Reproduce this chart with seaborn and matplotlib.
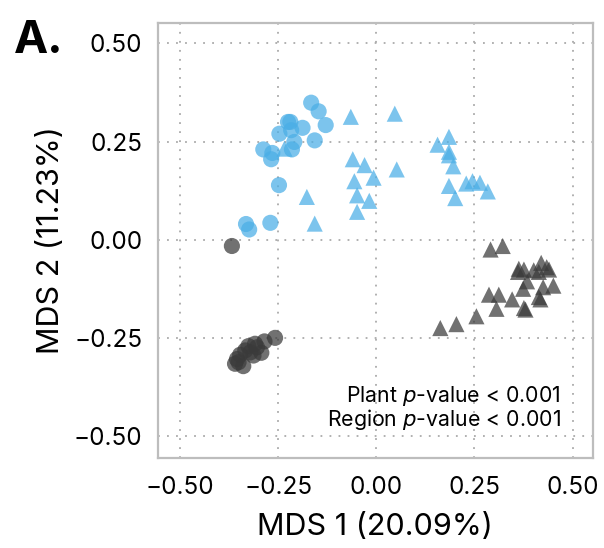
import numpy as np
import pandas as pd
import matplotlib
matplotlib.use("Agg")
import matplotlib.pyplot as plt
import seaborn as sns

# Data: MDS coordinates
blue_circle_x = [-0.166, -0.147, -0.225, -0.219, -0.129, -0.188, -0.217, -0.247, -0.157,
                 -0.209, -0.215, -0.288, -0.265, -0.268, -0.248, -0.332, -0.324, -0.270]
blue_circle_y = [0.349, 0.327, 0.300, 0.300, 0.292, 0.285, 0.279, 0.270, 0.253,
                 0.249, 0.230, 0.230, 0.221, 0.205, 0.139, 0.040, 0.026, 0.043]

blue_tri_x = [-0.234, -0.177, -0.157, -0.065, 0.047, 0.185, 0.156, 0.185, 0.185, -0.060,
              -0.030, 0.196, 0.052, -0.007, -0.056, 0.229, 0.245, 0.264, 0.284, 0.185,
              0.201, -0.049, -0.018, -0.049]
blue_tri_y = [0.232, 0.109, 0.041, 0.313, 0.321, 0.262, 0.242, 0.224, 0.215, 0.205,
              0.190, 0.187, 0.179, 0.158, 0.149, 0.143, 0.149, 0.145, 0.123, 0.137,
              0.106, 0.113, 0.099, 0.071]

dark_circle_x = [-0.368, -0.258, -0.285, -0.309, -0.326, -0.334, -0.347, -0.355, -0.360,
                 -0.339, -0.313, -0.293, -0.321, -0.304, -0.351]
dark_circle_y = [-0.016, -0.250, -0.259, -0.265, -0.271, -0.282, -0.293, -0.304, -0.316,
                 -0.322, -0.295, -0.288, -0.287, -0.274, -0.312]

dark_tri_x = [0.291, 0.322, 0.363, 0.376, 0.401, 0.420, 0.434, 0.440, 0.414, 0.361,
              0.384, 0.374, 0.451, 0.425, 0.414, 0.418, 0.287, 0.312, 0.346, 0.306,
              0.376, 0.380, 0.255, 0.204, 0.163]
dark_tri_y = [-0.025, -0.016, -0.074, -0.076, -0.078, -0.059, -0.070, -0.076, -0.082, -0.082,
              -0.106, -0.125, -0.117, -0.121, -0.146, -0.152, -0.140, -0.140, -0.152, -0.176,
              -0.174, -0.178, -0.195, -0.215, -0.225]

tick_vals = [-0.50, -0.25, 0.00, 0.25, 0.50]
tick_labels = ["\u22120.50", "\u22120.25", "0.00", "0.25", "0.50"]

frames = []
for xs, ys, region, plant in [
    (blue_circle_x, blue_circle_y, "R1", "P1"),
    (blue_tri_x, blue_tri_y, "R1", "P2"),
    (dark_circle_x, dark_circle_y, "R2", "P1"),
    (dark_tri_x, dark_tri_y, "R2", "P2"),
]:
    frames.append(pd.DataFrame({"x": xs, "y": ys, "region": region, "plant": plant}))
df = pd.concat(frames, ignore_index=True)

sns.set_theme(style="white")
plt.rcParams['font.family'] = ['Inter', 'DejaVu Sans']
plt.rcParams['text.color'] = 'black'
plt.rcParams['axes.labelcolor'] = 'black'
plt.rcParams['mathtext.fontset'] = 'custom'
plt.rcParams['mathtext.it'] = 'DejaVu Sans:italic'
plt.rcParams['mathtext.rm'] = 'Inter'

fig = plt.figure(figsize=(6.04, 5.48), dpi=100)
ax = fig.add_axes([157.7 / 604, 1 - 458 / 548, (593 - 157.7) / 604, (458 - 23) / 548])

sns.scatterplot(data=df, x="x", y="y", hue="region", style="plant",
                palette={"R1": "#4AAEE6", "R2": "#3a3a3a"},
                markers={"P1": "o", "P2": "^"}, s=135, alpha=0.72,
                linewidth=0, legend=False, ax=ax, zorder=3)

ax.set_xlim(-0.557, 0.552)
ax.set_ylim(-0.556, 0.552)
ax.set_xticks(tick_vals)
ax.set_xticklabels(tick_labels)
ax.set_yticks(tick_vals)
ax.set_yticklabels(tick_labels)
ax.tick_params(axis="both", length=0, labelsize=17.5, colors="black")
ax.tick_params(axis="x", pad=13)
ax.tick_params(axis="y", pad=11)
ax.grid(True, linestyle=(0, (1, 4)), color="#aaaaaa", linewidth=1.3)
for sp in ax.spines.values():
    sp.set_color("#bdbdbd")
    sp.set_linewidth(1.6)

ax.set_xlabel("MDS 1 (20.09%)", fontsize=22, labelpad=10)
ax.set_ylabel("MDS 2 (11.23%)", fontsize=22, labelpad=6)

ax.text(0.470, -0.398, r"Plant $p$-value < 0.001", ha="right", va="center", fontsize=15.3)
ax.text(0.470, -0.459, r"Region $p$-value < 0.001", ha="right", va="center", fontsize=15.3)

fig.text(14 / 604, 1 - 41 / 548, "A.", fontsize=33, fontweight="bold", va="center", ha="left")

fig.savefig("out.png", dpi=100)
